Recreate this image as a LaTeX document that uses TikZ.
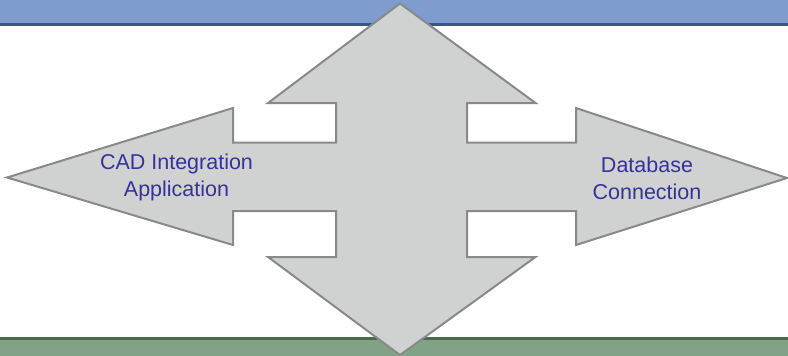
\documentclass[tikz,border=0pt]{standalone}
\usepackage{fontspec}
\setmainfont{Liberation Sans}
\definecolor{bandblue}{HTML}{7F9CCF}
\definecolor{bandblueline}{HTML}{3B5686}
\definecolor{bandgreen}{HTML}{82A287}
\definecolor{bandgreenline}{HTML}{4A6A4C}
\definecolor{arrowfill}{HTML}{D0D2D1}
\definecolor{arrowline}{HTML}{888A89}
\definecolor{labelblue}{HTML}{35329A}
\tikzset{
  arrowshape/.style={fill=arrowfill, draw=arrowline, line width=2pt, line join=miter},
  lbl/.style={text=labelblue, align=center, font=\fontsize{21.5}{27}\selectfont, inner sep=0pt}
}
\begin{document}
\begin{tikzpicture}[x=1pt,y=-1pt]
\useasboundingbox (0,0) rectangle (788,356);
% top band
\fill[bandblue] (0,0) rectangle (788,23);
\fill[bandblueline] (0,23) rectangle (788,25.5);
% bottom band
\fill[bandgreenline] (0,337.3) rectangle (788,340);
\fill[bandgreen] (0,340) rectangle (788,356);
% four-way arrow
\draw[arrowshape]
  (400,3.5) -- (535.5,103) -- (467,103) -- (467,142.5) -- (576,142.5) -- (576,108)
  -- (787,178) -- (576,245) -- (576,211) -- (467,211) -- (467,257) -- (535.5,257)
  -- (400,355) -- (268,257) -- (336,257) -- (336,211) -- (233,211) -- (233,245)
  -- (7,177.5) -- (233,108) -- (233,142.5) -- (336,142.5) -- (336,103) -- (268,103) -- cycle;
\node[lbl] (cad) at (176.5,177) {CAD Integration\\Application};
\node[lbl] (db) at (647,178) {Database\\Connection};
\end{tikzpicture}
\end{document}
